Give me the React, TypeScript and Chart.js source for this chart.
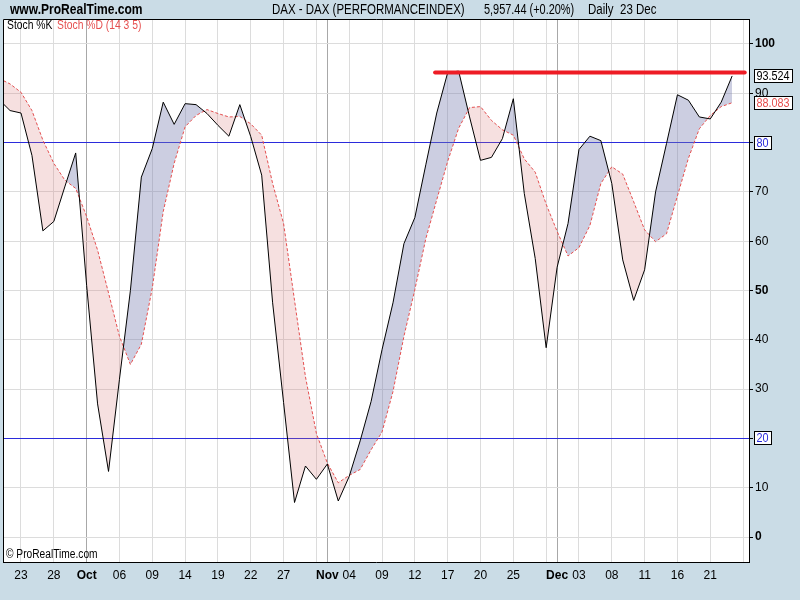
import React, { useEffect, useRef } from "react";
import { Chart, registerables } from "chart.js";

Chart.register(...registerables);

// ---------- data ----------
const tradingDays = [
  "2009-09-21", "2009-09-22", "2009-09-23", "2009-09-24", "2009-09-25", "2009-09-28", "2009-09-29", "2009-09-30",
  "2009-10-01", "2009-10-02", "2009-10-05", "2009-10-06", "2009-10-07", "2009-10-08", "2009-10-09",
  "2009-10-12", "2009-10-13", "2009-10-14", "2009-10-15", "2009-10-16", "2009-10-19", "2009-10-20",
  "2009-10-21", "2009-10-22", "2009-10-23", "2009-10-26", "2009-10-27", "2009-10-28", "2009-10-29",
  "2009-10-30", "2009-11-02", "2009-11-03", "2009-11-04", "2009-11-05", "2009-11-06", "2009-11-09",
  "2009-11-10", "2009-11-11", "2009-11-12", "2009-11-13", "2009-11-16", "2009-11-17", "2009-11-18",
  "2009-11-19", "2009-11-20", "2009-11-23", "2009-11-24", "2009-11-25", "2009-11-26", "2009-11-27",
  "2009-11-30", "2009-12-01", "2009-12-02", "2009-12-03", "2009-12-04", "2009-12-07", "2009-12-08",
  "2009-12-09", "2009-12-10", "2009-12-11", "2009-12-14", "2009-12-15", "2009-12-16", "2009-12-17",
  "2009-12-18", "2009-12-21", "2009-12-22", "2009-12-23",
];

const stochK = [
  88.7, 86.5, 86.0, 77.4, 62.1, 64.0, 71.0, 77.9, 51.0, 27.0,
  13.3, 32.0, 50.0, 73.0, 78.8, 88.2, 83.7, 87.9, 87.7, 85.9,
  83.5, 81.3, 87.7, 81.2, 73.4, 47.5, 27.3, 7.0, 14.4, 11.7,
  14.8, 7.3, 12.3, 19.5, 27.5, 38.0, 47.5, 59.5, 64.8, 75.5,
  86.0, 94.2, 94.5, 85.2, 76.4, 77.0, 80.8, 88.9, 69.7, 56.5,
  38.4, 54.7, 63.6, 78.6, 81.3, 80.4, 71.7, 56.2, 48.0, 54.2,
  70.0, 79.8, 89.7, 88.6, 85.2, 84.8, 88.2, 93.524,
];

const stochD = [
  93.0, 91.9, 90.2, 86.5, 80.5, 75.8, 72.4, 70.7, 65.0, 58.2,
  49.5, 40.7, 35.0, 39.1, 50.5, 66.0, 75.8, 83.2, 85.5, 86.7,
  85.9, 85.2, 85.3, 83.8, 81.5, 71.7, 63.6, 48.0, 32.5, 21.0,
  15.0, 11.0, 12.5, 13.7, 17.7, 21.3, 29.5, 40.7, 50.2, 60.5,
  68.4, 76.2, 82.9, 87.1, 87.3, 84.5, 82.6, 81.5, 76.7, 74.0,
  67.5, 62.0, 57.0, 58.7, 63.2, 71.7, 75.1, 73.6, 68.0, 62.3,
  59.9, 61.5, 69.2, 76.8, 82.8, 85.5, 87.3, 88.083,
];

const xTickIndex = [2, 5, 8, 11, 14, 17, 20, 23, 26, 29, 30, 32, 35, 38, 41, 44, 47, 50, 51, 53, 56, 59, 62, 65, 68];
const xTickLabels = ["23", "28", "Oct", "06", "09", "14", "19", "22", "27", "", "Nov", "04", "09", "12", "17", "20", "25", "", "Dec", "03", "08", "11", "16", "21", ""];
const monthLabels = ["Oct", "Nov", "Dec"];
const monthTickIndex = [8, 30, 51];

const yTicks = [0, 10, 20, 30, 40, 50, 60, 70, 80, 90, 100];
const boldYTicks = [0, 50, 100];
const levelLines = [80, 20];

const trendLine = [
  { x: 39.85, y: 94.2 },
  { x: 68.15, y: 94.2 },
];

const lastK = "93.524";
const lastD = "88.083";

// ---------- style ----------
const FONT = "'Liberation Sans', Arial, sans-serif";
const NARROW = 0.82;
const BG = "#CADCE6";
const GRID = "#DCDCDC";
const MONTH_GRID = "#A8A8A8";
const BLUE = "#2B2BDB";
const RED_D = "#E65050";
const FILL_UP = "rgba(120,125,175,0.38)";
const FILL_DOWN = "rgba(216,120,120,0.23)";

const X_MIN = 0.355;
const X_MAX = 68.54;
const Y_MIN = -5.07;
const Y_MAX = 105.07;

function narrowText(ctx: CanvasRenderingContext2D, text: string, x: number, y: number, font: string, color: string, sx = NARROW) {
  ctx.save();
  ctx.font = font;
  ctx.fillStyle = color;
  ctx.textAlign = "left";
  ctx.textBaseline = "middle";
  ctx.translate(x, y);
  ctx.scale(sx, 1);
  ctx.fillText(text, 0, 0);
  const w = ctx.measureText(text).width * sx;
  ctx.restore();
  return w;
}

const decor = {
  id: "decor",
  beforeDraw(chart: any) {
    const { ctx, chartArea: ca } = chart;
    ctx.save();
    ctx.fillStyle = BG;
    ctx.fillRect(0, 0, chart.width, chart.height);
    ctx.fillStyle = "#ffffff";
    ctx.fillRect(ca.left, ca.top, ca.right - ca.left, ca.bottom - ca.top);
    ctx.restore();
  },
  afterDraw(chart: any) {
    const { ctx, chartArea: ca } = chart;
    const yScale = chart.scales.y;
    ctx.save();
    // frame (top & left)
    ctx.strokeStyle = "#000";
    ctx.lineWidth = 1;
    ctx.beginPath();
    ctx.moveTo(ca.left + 0.5, ca.bottom);
    ctx.lineTo(ca.left + 0.5, ca.top + 0.5);
    ctx.lineTo(ca.right, ca.top + 0.5);
    ctx.stroke();

    // header
    narrowText(ctx, "www.ProRealTime.com", 10, 10, `bold 14px ${FONT}`, "#000", 0.86);
    narrowText(ctx, "DAX - DAX (PERFORMANCEINDEX)", 272, 10, `14px ${FONT}`, "#000");
    narrowText(ctx, "5,957.44 (+0.20%)", 484, 10, `14px ${FONT}`, "#000", 0.78);
    narrowText(ctx, "Daily", 588, 10, `14px ${FONT}`, "#000");
    narrowText(ctx, "23 Dec", 620, 10, `14px ${FONT}`, "#000");

    // legend
    narrowText(ctx, "Stoch %K", 7, 26, `12px ${FONT}`, "#000", 0.86);
    narrowText(ctx, "Stoch %D (14 3 5)", 57, 26, `12px ${FONT}`, RED_D, 0.86);

    // copyright
    narrowText(ctx, "\u00A9 ProRealTime.com", 6, 555, `12px ${FONT}`, "#000", 0.85);

    // value boxes
    const drawBox = (v: number, text: string, color: string) => {
      ctx.font = `12px ${FONT}`;
      const tw = ctx.measureText(text).width * 0.9;
      const w = Math.ceil(tw) + 5;
      const y = Math.round(yScale.getPixelForValue(v));
      const x = Math.round(ca.right) + 5;
      ctx.fillStyle = "#fff";
      ctx.fillRect(x, y - 7, w, 14);
      ctx.strokeStyle = "#000";
      ctx.lineWidth = 1;
      ctx.strokeRect(x + 0.5, y - 6.5, w - 1, 13);
      narrowText(ctx, text, x + 2.5, y + 0.5, `12px ${FONT}`, color, 0.9);
    };
    levelLines.forEach((lv) => drawBox(lv, String(lv), BLUE));
    drawBox(Number(lastD), lastD, RED_D);
    drawBox(Number(lastK), lastK, "#000");
    ctx.restore();
  },
};

export default function App() {
  const ref = useRef<HTMLCanvasElement>(null);

  useEffect(() => {
    const canvas = ref.current!;
    const kPts = stochK.map((v, i) => ({ x: i, y: v, d: tradingDays[i] }));
    const dPts = stochD.map((v, i) => ({ x: i, y: v, d: tradingDays[i] }));

    const chart = new Chart(canvas, {
      type: "line",
      data: {
        datasets: [
          {
            label: "Stoch %K",
            data: kPts,
            borderColor: "#000000",
            borderWidth: 1,
            pointRadius: 0,
            tension: 0,
            fill: { target: 1, above: FILL_UP, below: FILL_DOWN },
            order: 1,
          },
          {
            label: "Stoch %D",
            data: dPts,
            borderColor: RED_D,
            borderWidth: 1,
            borderDash: [3, 2],
            pointRadius: 0,
            tension: 0,
            fill: false,
            order: 2,
          },
          {
            label: "trend",
            data: trendLine,
            borderColor: "#EE1C25",
            borderWidth: 4,
            borderCapStyle: "round",
            pointRadius: 0,
            fill: false,
            order: 0,
          },
        ] as any,
      },
      options: {
        animation: false,
        responsive: false,
        devicePixelRatio: 1,
        parsing: false as any,
        layout: { padding: { top: 19, left: 3, right: 0, bottom: 0 } },
        plugins: {
          legend: { display: false },
          tooltip: { enabled: false },
          filler: { drawTime: "beforeDatasetsDraw" } as any,
        },
        scales: {
          x: {
            type: "linear",
            min: X_MIN,
            max: X_MAX,
            afterBuildTicks: (s: any) => {
              s.ticks = xTickIndex.map((v) => ({ value: v }));
            },
            afterFit: (s: any) => {
              s.height = 38;
            },
            ticks: {
              autoSkip: false,
              maxRotation: 0,
              minRotation: 0,
              padding: 6,
              color: "#000",
              font: (c: any) => ({
                family: FONT,
                size: 12,
                weight: monthLabels.includes(xTickLabels[c.index]) ? "bold" : "normal",
              }),
              callback: (_v: any, i: number) => xTickLabels[i],
            },
            grid: {
              color: (c: any) => (monthTickIndex.includes(c.tick?.value) ? MONTH_GRID : GRID),
              lineWidth: 1,
              drawTicks: false,
            },
            border: { display: true, color: "#000" },
          } as any,
          y: {
            type: "linear",
            position: "right",
            min: Y_MIN,
            max: Y_MAX,
            afterBuildTicks: (s: any) => {
              s.ticks = yTicks.map((v) => ({ value: v }));
            },
            afterFit: (s: any) => {
              s.width = 51;
            },
            ticks: {
              padding: 2,
              color: "#000",
              font: (c: any) => ({
                family: FONT,
                size: 12,
                weight: boldYTicks.includes(c.tick?.value) ? "bold" : "normal",
              }),
              callback: (v: any) => (levelLines.includes(v) ? "" : String(v)),
            },
            grid: {
              color: (c: any) => (levelLines.includes(c.tick?.value) ? BLUE : GRID),
              tickColor: "#000",
              tickLength: 4,
              lineWidth: 1,
            },
            border: { display: true, color: "#000" },
          } as any,
        },
      },
      plugins: [decor],
    });
    return () => chart.destroy();
  }, []);

  return (
    <div style={{ position: "fixed", left: 0, top: 0, width: 800, height: 600, background: BG }}>
      <canvas ref={ref} width={800} height={600} style={{ display: "block", width: 800, height: 600 }} />
    </div>
  );
}
